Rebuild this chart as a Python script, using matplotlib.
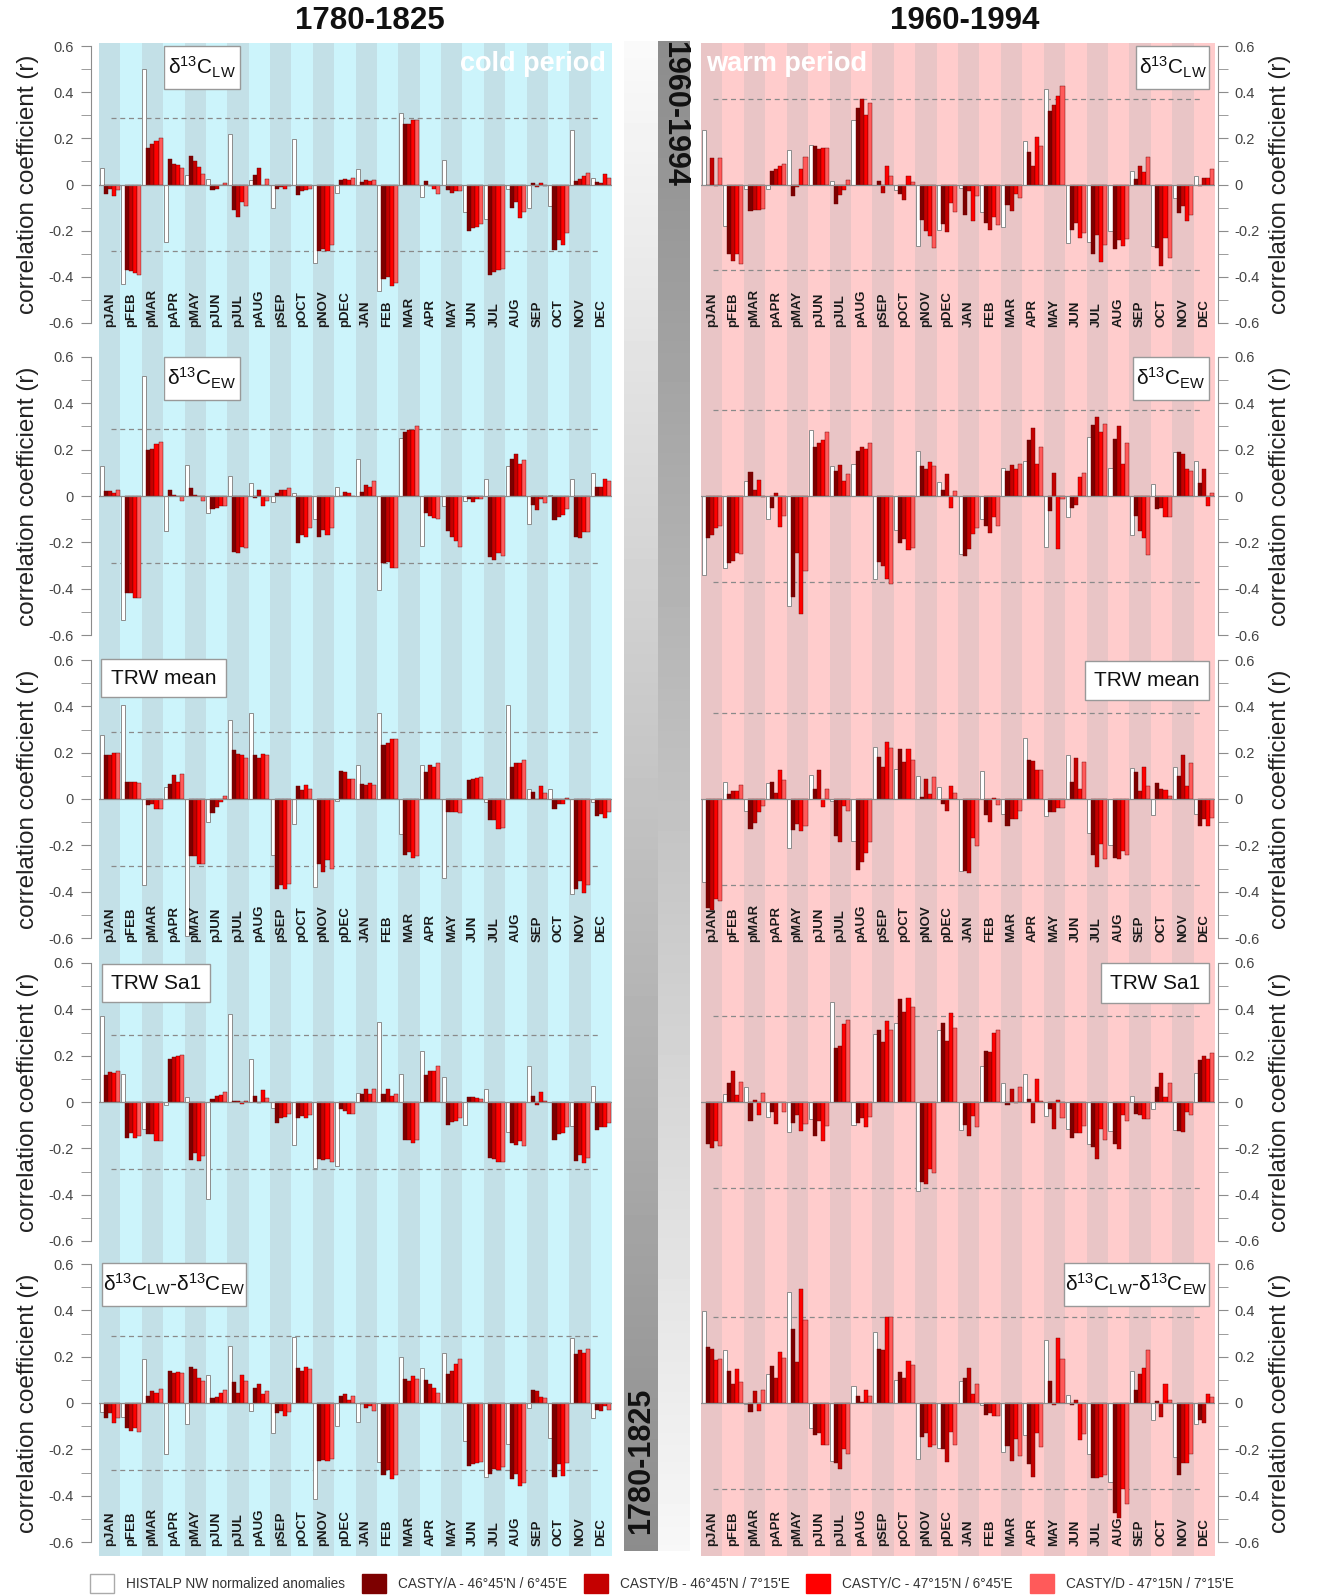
import numpy as np
import matplotlib
matplotlib.use("Agg")
import matplotlib.pyplot as plt
from matplotlib.patches import Rectangle

W, H = 1320, 1595
plt.rcParams['font.family'] = ['Liberation Sans', 'DejaVu Sans']
plt.rcParams['mathtext.default'] = 'regular'
BOLDF = ['Liberation Sans', 'DejaVu Sans']

months = ["pJAN", "pFEB", "pMAR", "pAPR", "pMAY", "pJUN", "pJUL", "pAUG",
          "pSEP", "pOCT", "pNOV", "pDEC", "JAN", "FEB", "MAR", "APR",
          "MAY", "JUN", "JUL", "AUG", "SEP", "OCT", "NOV", "DEC"]

series_names = ["HISTALP NW normalized anomalies",
                "CASTY/A - 46°45'N / 6°45'E",
                "CASTY/B - 46°45'N / 7°15'E",
                "CASTY/C - 47°15'N / 6°45'E",
                "CASTY/D - 47°15N / 7°15'E"]
series_colors = ["#ffffff", "#7d0000", "#c40000", "#ff0000", "#ff5a5a"]

# one row per month: [HISTALP, CASTY/A, CASTY/B, CASTY/C, CASTY/D]
lw_cold = [
    [0.07, -0.04, -0.02, -0.05, -0.025], [-0.43, -0.37, -0.375, -0.385, -0.39],
    [0.50, 0.16, 0.175, 0.19, 0.20], [-0.25, 0.11, 0.09, 0.085, 0.07],
    [0.04, 0.125, 0.10, 0.075, 0.045], [0.025, -0.025, -0.02, 0.0, 0.005],
    [0.22, -0.11, -0.14, -0.075, -0.095], [0.02, 0.04, 0.07, 0.0, 0.025],
    [-0.10, -0.02, -0.01, -0.02, -0.005], [0.195, -0.045, -0.03, -0.025, -0.02],
    [-0.34, -0.29, -0.28, -0.29, -0.26], [-0.035, 0.02, 0.025, 0.02, 0.03],
    [0.065, 0.01, 0.02, 0.015, 0.02], [-0.46, -0.41, -0.40, -0.44, -0.425],
    [0.31, 0.26, 0.26, 0.28, 0.28], [-0.055, 0.015, -0.005, -0.02, -0.04],
    [0.105, -0.025, -0.035, -0.028, -0.028], [-0.12, -0.20, -0.19, -0.185, -0.17],
    [-0.15, -0.39, -0.38, -0.37, -0.365], [-0.02, -0.10, -0.075, -0.145, -0.12],
    [-0.10, 0.008, -0.012, 0.008, -0.008], [-0.095, -0.285, -0.24, -0.26, -0.21],
    [0.235, 0.015, 0.025, 0.035, 0.05], [0.03, 0.01, 0.005, 0.045, 0.03],
]
lw_warm = [
    [0.235, 0.0, 0.115, -0.005, 0.115], [-0.18, -0.30, -0.33, -0.30, -0.345],
    [-0.02, -0.115, -0.11, -0.11, -0.105], [-0.02, 0.06, 0.065, 0.08, 0.09],
    [0.15, -0.05, -0.01, 0.065, 0.12], [0.17, 0.165, 0.155, 0.16, 0.16],
    [0.015, -0.085, -0.045, -0.025, 0.02], [0.28, 0.33, 0.37, 0.30, 0.355],
    [0.0, 0.015, -0.035, 0.08, 0.035], [-0.025, -0.04, -0.065, 0.038, 0.01],
    [-0.265, -0.155, -0.20, -0.225, -0.275], [-0.195, -0.17, -0.205, -0.08, -0.12],
    [-0.015, -0.13, -0.03, -0.16, -0.05], [-0.12, -0.165, -0.195, -0.14, -0.175],
    [-0.185, -0.09, -0.115, -0.04, -0.06], [0.19, 0.14, 0.08, 0.205, 0.165],
    [0.415, 0.32, 0.345, 0.385, 0.425], [-0.255, -0.195, -0.165, -0.23, -0.21],
    [-0.25, -0.30, -0.22, -0.335, -0.26], [-0.20, -0.28, -0.24, -0.265, -0.235],
    [0.06, 0.025, 0.08, 0.055, 0.12], [-0.265, -0.275, -0.355, -0.23, -0.32],
    [-0.06, -0.125, -0.095, -0.16, -0.13], [0.035, -0.005, 0.03, 0.03, 0.065],
]
ew_cold = [
    [0.13, 0.02, 0.02, 0.013, 0.028], [-0.535, -0.42, -0.42, -0.44, -0.44],
    [0.52, 0.20, 0.205, 0.225, 0.235], [-0.15, 0.025, 0.005, 0.0, -0.02],
    [0.135, 0.033, 0.004, 0.0, -0.022], [-0.075, -0.055, -0.05, -0.045, -0.045],
    [0.087, -0.24, -0.245, -0.22, -0.225], [0.055, -0.01, 0.025, -0.045, -0.02],
    [-0.027, 0.015, 0.025, 0.025, 0.033], [0.015, -0.205, -0.17, -0.175, -0.14],
    [-0.10, -0.175, -0.145, -0.17, -0.14], [0.038, 0.0, 0.018, 0.014, 0.0],
    [0.16, 0.018, 0.048, 0.04, 0.065], [-0.405, -0.29, -0.285, -0.31, -0.31],
    [0.25, 0.275, 0.285, 0.285, 0.30], [-0.215, -0.075, -0.085, -0.095, -0.10],
    [-0.045, -0.15, -0.175, -0.195, -0.22], [-0.02, -0.015, -0.025, -0.015, -0.015],
    [0.075, -0.265, -0.275, -0.245, -0.26], [0.13, 0.16, 0.18, 0.14, 0.155],
    [-0.12, -0.04, -0.06, -0.012, -0.03], [0.005, -0.105, -0.09, -0.08, -0.055],
    [0.075, -0.175, -0.18, -0.155, -0.155], [0.10, 0.04, 0.04, 0.072, 0.065],
]
ew_warm = [
    [-0.34, -0.18, -0.17, -0.14, -0.13], [-0.31, -0.29, -0.28, -0.245, -0.25],
    [0.065, 0.105, 0.025, 0.07, -0.005], [-0.10, -0.05, 0.015, -0.135, -0.085],
    [-0.475, -0.435, -0.245, -0.51, -0.325], [0.285, 0.21, 0.23, 0.24, 0.275],
    [0.13, 0.11, 0.135, 0.065, 0.095], [0.14, 0.195, 0.21, 0.205, 0.23],
    [-0.36, -0.285, -0.30, -0.36, -0.38], [-0.145, -0.205, -0.185, -0.235, -0.225],
    [0.195, 0.13, 0.115, 0.145, 0.13], [0.06, 0.025, 0.095, -0.05, 0.02],
    [-0.25, -0.26, -0.23, -0.165, -0.14], [-0.10, -0.13, -0.16, -0.09, -0.13],
    [0.12, 0.11, 0.135, 0.115, 0.14], [0.15, 0.24, 0.295, 0.14, 0.21],
    [-0.22, -0.065, 0.10, -0.23, -0.015], [-0.09, -0.05, -0.04, 0.08, 0.10],
    [0.255, 0.305, 0.34, 0.275, 0.31], [0.12, 0.245, 0.30, 0.14, 0.23],
    [-0.17, -0.085, -0.15, -0.18, -0.255], [0.05, -0.055, -0.05, -0.09, -0.09],
    [0.19, 0.19, 0.18, 0.115, 0.11], [0.15, 0.055, 0.115, -0.045, 0.015],
]
trw_cold = [
    [0.275, 0.19, 0.19, 0.20, 0.20], [0.405, 0.075, 0.075, 0.072, 0.07],
    [-0.37, -0.025, -0.02, -0.045, -0.045], [0.05, 0.065, 0.105, 0.075, 0.11],
    [-0.59, -0.245, -0.245, -0.28, -0.28], [-0.10, -0.06, -0.035, -0.015, 0.015],
    [0.34, 0.21, 0.195, 0.19, 0.175], [0.37, 0.19, 0.175, 0.195, 0.19],
    [-0.24, -0.39, -0.37, -0.39, -0.365], [-0.11, 0.055, 0.04, 0.06, 0.045],
    [-0.38, -0.28, -0.315, -0.265, -0.30], [-0.01, 0.12, 0.115, 0.085, 0.085],
    [0.145, 0.065, 0.06, 0.07, 0.062], [0.37, 0.235, 0.24, 0.26, 0.26],
    [-0.15, -0.24, -0.23, -0.255, -0.245], [0.145, 0.115, 0.145, 0.14, 0.155],
    [-0.34, -0.055, -0.055, -0.055, -0.06], [0.0, 0.08, 0.085, 0.092, 0.095],
    [-0.015, -0.09, -0.09, -0.13, -0.125], [0.405, 0.14, 0.155, 0.155, 0.168],
    [0.045, 0.03, 0.0, 0.055, 0.028], [0.045, -0.045, -0.02, -0.02, 0.005],
    [-0.41, -0.39, -0.355, -0.405, -0.37], [-0.015, -0.075, -0.065, -0.08, -0.058],
]
trw_warm = [
    [-0.36, -0.47, -0.48, -0.43, -0.44], [0.075, 0.02, 0.035, 0.035, 0.06],
    [-0.05, -0.13, -0.105, -0.055, -0.03], [0.07, 0.075, 0.025, 0.125, 0.08],
    [-0.21, -0.135, -0.11, -0.14, -0.115], [0.105, 0.045, 0.125, -0.035, 0.045],
    [-0.01, -0.16, -0.185, -0.03, -0.05], [-0.18, -0.305, -0.27, -0.235, -0.185],
    [0.225, 0.18, 0.14, 0.245, 0.22], [0.13, 0.215, 0.16, 0.215, 0.17],
    [0.10, 0.01, 0.085, 0.02, 0.095], [0.05, -0.02, -0.05, 0.055, 0.025],
    [-0.31, -0.31, -0.32, -0.17, -0.205], [0.12, -0.07, -0.10, 0.005, -0.025],
    [-0.065, -0.115, -0.085, -0.085, -0.05], [0.265, 0.17, 0.165, 0.125, 0.125],
    [-0.075, -0.055, -0.055, -0.04, -0.04], [0.19, 0.075, 0.175, 0.045, 0.16],
    [-0.145, -0.24, -0.295, -0.195, -0.26], [-0.20, -0.255, -0.26, -0.225, -0.24],
    [0.135, 0.115, 0.035, 0.14, 0.055], [-0.07, 0.07, 0.045, 0.04, 0.015],
    [0.14, 0.10, 0.19, 0.055, 0.155], [-0.065, -0.115, -0.085, -0.115, -0.08],
]
sa1_cold = [
    [0.37, 0.115, 0.13, 0.125, 0.135], [0.12, -0.155, -0.135, -0.155, -0.145],
    [-0.115, -0.14, -0.14, -0.17, -0.17], [-0.015, 0.185, 0.195, 0.20, 0.205],
    [0.02, -0.25, -0.22, -0.255, -0.235], [-0.42, 0.015, 0.025, 0.03, 0.045],
    [0.38, 0.003, 0.003, -0.008, 0.005], [0.185, 0.025, -0.005, 0.05, 0.018],
    [-0.025, -0.09, -0.07, -0.065, -0.05], [-0.185, -0.07, -0.06, -0.07, -0.055],
    [-0.285, -0.245, -0.25, -0.245, -0.26], [-0.275, -0.03, -0.04, -0.05, -0.05],
    [0.04, 0.035, 0.058, 0.035, 0.058], [0.345, 0.035, 0.055, 0.025, 0.036],
    [0.12, -0.165, -0.165, -0.175, -0.165], [0.22, 0.115, 0.135, 0.135, 0.155],
    [0.11, -0.10, -0.085, -0.08, -0.07], [-0.10, 0.022, 0.022, 0.018, 0.015],
    [0.055, -0.24, -0.245, -0.26, -0.26], [-0.13, -0.175, -0.185, -0.17, -0.19],
    [0.155, 0.025, -0.012, 0.042, 0.003], [0.0, -0.165, -0.14, -0.135, -0.11],
    [-0.105, -0.255, -0.23, -0.265, -0.24], [0.07, -0.12, -0.11, -0.11, -0.09],
]
sa1_warm = [
    [0.0, -0.18, -0.20, -0.17, -0.19], [0.035, 0.08, 0.135, 0.03, 0.085],
    [0.065, -0.08, 0.01, -0.055, 0.04], [-0.065, -0.045, -0.095, 0.0, -0.045],
    [-0.13, -0.09, -0.055, -0.125, -0.095], [-0.075, -0.145, -0.08, -0.17, -0.105],
    [0.43, 0.235, 0.24, 0.335, 0.355], [-0.10, -0.09, -0.07, -0.11, -0.065],
    [0.295, 0.31, 0.26, 0.35, 0.31], [0.34, 0.445, 0.39, 0.45, 0.41],
    [-0.385, -0.345, -0.355, -0.29, -0.305], [0.31, 0.34, 0.265, 0.385, 0.32],
    [-0.12, -0.10, -0.145, -0.06, -0.11], [0.155, 0.22, 0.215, 0.30, 0.31],
    [0.08, -0.015, 0.055, -0.005, 0.065], [0.12, 0.015, -0.09, 0.10, 0.005],
    [-0.06, -0.03, -0.115, 0.01, -0.07], [-0.115, -0.155, -0.135, -0.135, -0.105],
    [-0.18, -0.195, -0.245, -0.115, -0.165], [-0.125, -0.18, -0.205, -0.055, -0.08],
    [0.025, -0.05, -0.055, -0.075, -0.075], [-0.03, 0.065, 0.125, 0.02, 0.08],
    [-0.12, -0.125, -0.13, -0.045, -0.055], [0.125, 0.18, 0.20, 0.185, 0.21],
]
diff_cold = [
    [-0.04, -0.065, -0.045, -0.085, -0.065], [-0.06, -0.11, -0.12, -0.11, -0.125],
    [0.19, 0.03, 0.05, 0.045, 0.06], [-0.22, 0.14, 0.13, 0.135, 0.13],
    [-0.09, 0.155, 0.145, 0.11, 0.095], [0.12, 0.02, 0.028, 0.045, 0.055],
    [0.245, 0.09, 0.045, 0.12, 0.095], [-0.035, 0.065, 0.08, 0.04, 0.05],
    [-0.13, -0.045, -0.035, -0.055, -0.04], [0.285, 0.15, 0.14, 0.155, 0.145],
    [-0.415, -0.25, -0.245, -0.25, -0.24], [-0.10, 0.03, 0.04, 0.015, 0.03],
    [-0.08, -0.005, -0.02, -0.015, -0.035], [-0.255, -0.31, -0.29, -0.33, -0.31],
    [0.20, 0.105, 0.095, 0.115, 0.105], [0.15, 0.10, 0.08, 0.065, 0.045],
    [0.215, 0.125, 0.14, 0.17, 0.19], [-0.165, -0.27, -0.265, -0.26, -0.255],
    [-0.32, -0.305, -0.285, -0.29, -0.275], [-0.175, -0.33, -0.305, -0.36, -0.345],
    [-0.02, 0.055, 0.05, 0.025, 0.02], [-0.15, -0.32, -0.265, -0.315, -0.26],
    [0.28, 0.21, 0.23, 0.215, 0.235], [-0.065, -0.03, -0.035, -0.015, -0.03],
]
diff_warm = [
    [0.395, 0.24, 0.235, 0.185, 0.19], [0.23, 0.14, 0.08, 0.145, 0.09],
    [-0.005, -0.04, 0.05, -0.035, 0.055], [0.125, 0.16, 0.11, 0.22, 0.195],
    [0.48, 0.32, 0.175, 0.49, 0.36], [-0.11, -0.14, -0.13, -0.18, -0.18],
    [-0.25, -0.26, -0.285, -0.20, -0.22], [0.075, 0.03, 0.005, 0.055, 0.03],
    [0.305, 0.235, 0.23, 0.37, 0.37], [0.10, 0.135, 0.11, 0.18, 0.165],
    [-0.24, -0.145, -0.13, -0.19, -0.18], [-0.195, -0.20, -0.255, -0.125, -0.18],
    [0.095, 0.11, 0.15, 0.04, 0.08], [-0.01, -0.05, -0.045, -0.055, -0.055],
    [-0.21, -0.185, -0.25, -0.155, -0.23], [-0.14, -0.265, -0.32, -0.13, -0.19],
    [0.27, 0.095, -0.01, 0.28, 0.19], [0.035, -0.01, 0.015, -0.16, -0.135],
    [-0.22, -0.325, -0.325, -0.32, -0.31], [-0.34, -0.475, -0.495, -0.37, -0.435],
    [0.14, 0.055, 0.125, 0.15, 0.23], [-0.075, 0.008, -0.06, 0.08, 0.015],
    [-0.235, -0.31, -0.26, -0.26, -0.22], [-0.09, -0.075, -0.085, 0.04, 0.025],
]

panel_labels = [r"$δ^{13}C_{LW}$", r"$δ^{13}C_{EW}$", "TRW mean", "TRW Sa1",
                r"$δ^{13}C_{LW}$-$δ^{13}C_{EW}$"]
cold_panels = [lw_cold, ew_cold, trw_cold, sa1_cold, diff_cold]
warm_panels = [lw_warm, ew_warm, trw_warm, sa1_warm, diff_warm]
sig_cold, sig_warm = 0.29, 0.37

# layout in pixels (top-left origin)
rows_px = [(46, 323), (357, 635), (660, 938), (963, 1241), (1264, 1542)]
col_x = {"cold": (99, 612), "warm": (701, 1215)}
bg_y = (43, 1556)
box_px = {
    "cold": [(164, 240, 46, 89), (164, 240, 357, 400), (101, 226, 659, 697),
             (102, 210, 964, 1002), (102, 246, 1263, 1306)],
    "warm": [(1136, 1209, 46, 89), (1133, 1209, 357, 400), (1085, 1209, 661, 700),
             (1101, 1209, 963, 1003), (1064, 1209, 1263, 1306)],
}


def fig_rect(x0, x1, y0, y1):
    return [x0 / W, 1 - y1 / H, (x1 - x0) / W, (y1 - y0) / H]


fig = plt.figure(figsize=(W / 100, H / 100), dpi=100)

# striped column backgrounds
for key, (light, dark) in {"cold": ("#ccf4fb", "#c3e0e7"),
                           "warm": ("#ffcccc", "#e9c5c6")}.items():
    x0, x1 = col_x[key]
    bg = fig.add_axes(fig_rect(x0, x1, *bg_y))
    bg.set_zorder(0)
    bg.set_xlim(-0.5, 23.5)
    bg.set_ylim(0, 1)
    bg.axis("off")
    bg.axvspan(-0.5, 23.5, color=light, lw=0)
    for i in range(0, 24, 2):
        bg.axvspan(i - 0.5, i + 0.5, color=dark, lw=0)

# gradient period strips in the middle
grad = np.linspace(0, 1, 256).reshape(-1, 1)
sl = fig.add_axes(fig_rect(624, 658, 41, 1551))
sl.imshow(0.98 - 0.43 * grad, cmap="gray", vmin=0, vmax=1, aspect="auto")
sl.axis("off")
sr = fig.add_axes(fig_rect(658, 690, 41, 1551))
sr.imshow(0.55 + 0.42 * grad, cmap="gray", vmin=0, vmax=1, aspect="auto")
sr.axis("off")
fig.text(674 / W, 1 - 114 / H, "1960-1994", rotation=270, ha="center", va="center",
         fontsize=22, fontweight="bold", family=BOLDF, color="#111", zorder=6)
fig.text(641 / W, 1 - 1461 / H, "1780-1825", rotation=90, ha="center", va="center",
         fontsize=22, fontweight="bold", family=BOLDF, color="#111", zorder=6)

offsets = (np.arange(5) - 2) * 0.19
x = np.arange(len(months))

for key, panels, sig in [("cold", cold_panels, sig_cold), ("warm", warm_panels, sig_warm)]:
    x0, x1 = col_x[key]
    for r, (data, (y0, y1)) in enumerate(zip(panels, rows_px)):
        vals = np.array(data)
        ax = fig.add_axes(fig_rect(x0, x1, y0, y1))
        ax.set_zorder(2)
        ax.patch.set_visible(False)
        ax.set_xlim(-0.5, 23.5)
        ax.set_ylim(-0.6, 0.6)

        ax.hlines([sig, -sig], 0.05, 22.95, colors="#8a8a8a", linestyles=(0, (4, 3)),
                  lw=0.9, zorder=1)
        for k in range(5):
            if k == 0:
                ax.bar(x + offsets[k], vals[:, k], 0.19, color="white",
                       edgecolor="#8c8c8c", lw=0.7, zorder=2)
            else:
                ax.bar(x + offsets[k], vals[:, k], 0.19, color=series_colors[k],
                       edgecolor="#6a0000", lw=0.3, zorder=2)
        ax.axhline(0, color="#8c8c8c", lw=0.9, zorder=3)

        if r % 2 == 0:
            for i, m in enumerate(months):
                ax.text(i, -0.617, m, rotation=90, ha="center", va="bottom",
                        fontsize=9.5, fontweight="bold", color="#1a1a1a", zorder=4,
                        clip_on=False)

        for s in ["top", "bottom", "left", "right"]:
            ax.spines[s].set_visible(False)
        side = "left" if key == "cold" else "right"
        sp = ax.spines[side]
        sp.set_visible(True)
        sp.set_position(("outward", 6 if key == "cold" else 2))
        sp.set_bounds(-0.6, 0.6)
        sp.set_color("#8c8c8c")
        if key == "warm":
            ax.yaxis.tick_right()
            ax.yaxis.set_label_position("right")
        ax.set_xticks([])
        ax.set_yticks([-0.6, -0.4, -0.2, 0, 0.2, 0.4, 0.6])
        ax.set_yticklabels(["-0.6", "-0.4", "-0.2", "0", "0.2", "0.4", "0.6"])
        ax.set_yticks([-0.5, -0.3, -0.1, 0.1, 0.3, 0.5], minor=True)
        ax.tick_params(axis="y", which="both", length=7, color="#8c8c8c",
                       labelcolor="#444444", labelsize=10.5, pad=5)
        ax.set_ylabel("correlation coefficient (r)", fontsize=17.5, color="#222222",
                      labelpad=7)

        bx0, bx1, by0, by1 = box_px[key][r]
        fig.add_artist(Rectangle((bx0 / W, 1 - by1 / H), (bx1 - bx0) / W, (by1 - by0) / H,
                                 transform=fig.transFigure, facecolor="white",
                                 edgecolor="#999999", lw=1, zorder=5))
        fig.text((bx0 + bx1) / 2 / W, 1 - (by0 + by1) / 2 / H, panel_labels[r],
                 ha="center", va="center", fontsize=15, color="#111", zorder=6)

# period titles and tags
fig.text(370 / W, 1 - 21 / H, "1780-1825", ha="center", va="center", fontsize=22.5,
         fontweight="bold", family=BOLDF, color="#111")
fig.text(965 / W, 1 - 21 / H, "1960-1994", ha="center", va="center", fontsize=22.5,
         fontweight="bold", family=BOLDF, color="#111")
fig.text(606 / W, 1 - 64 / H, "cold period", ha="right", va="center", fontsize=19.5,
         fontweight="bold", family=BOLDF, color="white", zorder=6)
fig.text(706 / W, 1 - 64 / H, "warm period", ha="left", va="center", fontsize=19.5,
         fontweight="bold", family=BOLDF, color="white", zorder=6)

# legend along the bottom
leg_boxes = [90, 362, 584, 806, 1030]
for k, bxl in enumerate(leg_boxes):
    fig.add_artist(Rectangle((bxl / W, 1 - 1593 / H), 24 / W, 19 / H,
                             transform=fig.transFigure, facecolor=series_colors[k],
                             edgecolor="#aaaaaa" if k == 0 else series_colors[k], lw=1))
    fig.text((bxl + 36) / W, 1 - 1584 / H, series_names[k], ha="left", va="center",
             fontsize=9.8, color="#333333")

fig.savefig("out.png", dpi=100)
